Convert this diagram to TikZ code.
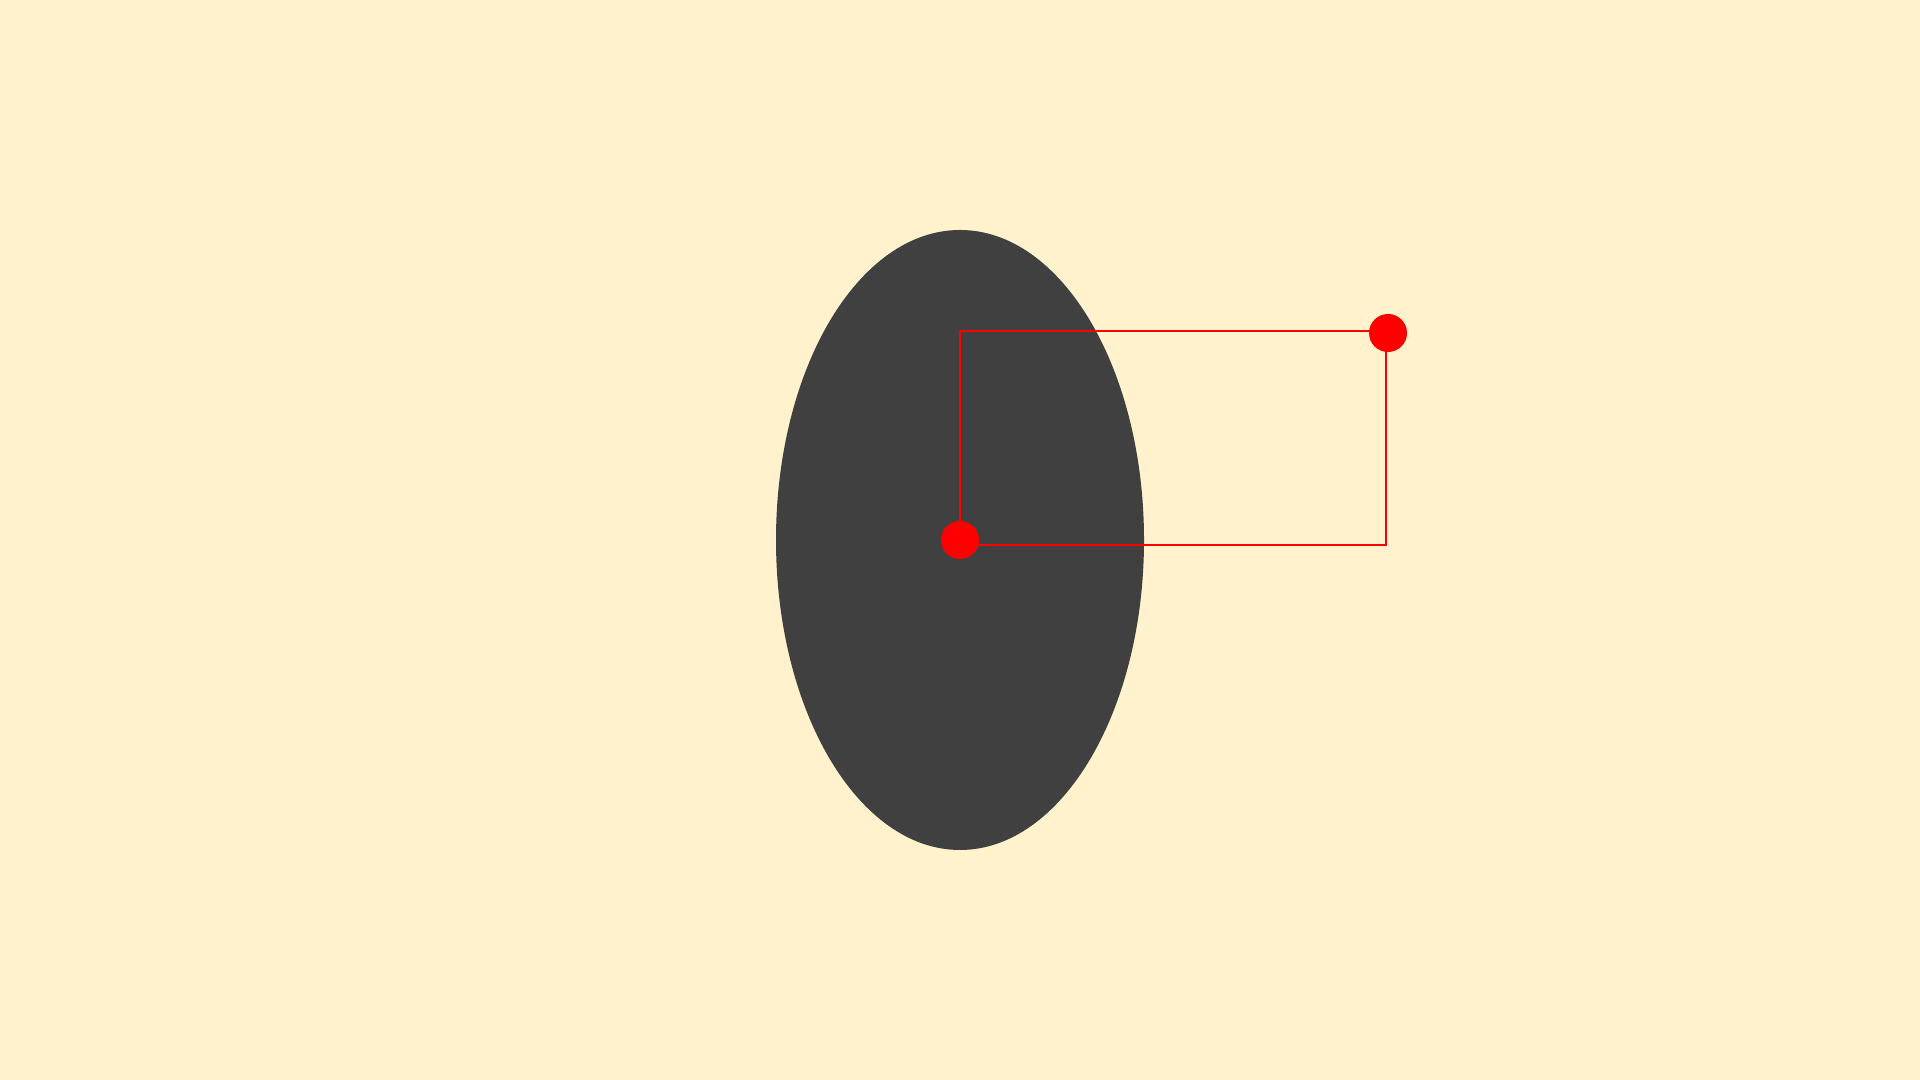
\documentclass[tikz,border=0pt]{standalone}
\usepackage{tikz}
\usetikzlibrary{positioning,backgrounds}
\definecolor{paper}{HTML}{FFF2CC}
\definecolor{body}{HTML}{404040}
\tikzset{
  dot/.style={circle,fill=red,inner sep=0pt,minimum size=0.38cm},
  link/.style={draw=red, line width=0.45pt}
}
\begin{document}
\begin{tikzpicture}
    % background
    \fill[paper] (0,0) rectangle (19.2,10.8);
    \useasboundingbox (0,0) rectangle (19.2,10.8);

    % ellipse
    \fill[body] (9.6,5.4) ellipse (1.84 and 3.1);

    % points
    \coordinate (pc) at (9.6,5.4);
    \coordinate (pd) at (13.88,7.47);

    % links
    \draw[link] (pc) |- ([yshift=0.02cm]pd);
    \draw[link] ([xshift=-0.02cm]pd) |- ([yshift=-0.05cm]pc);

    \node[dot] (c) at (pc) {};
    \node[dot] (d) at (pd) {};
\end{tikzpicture}
\end{document}
